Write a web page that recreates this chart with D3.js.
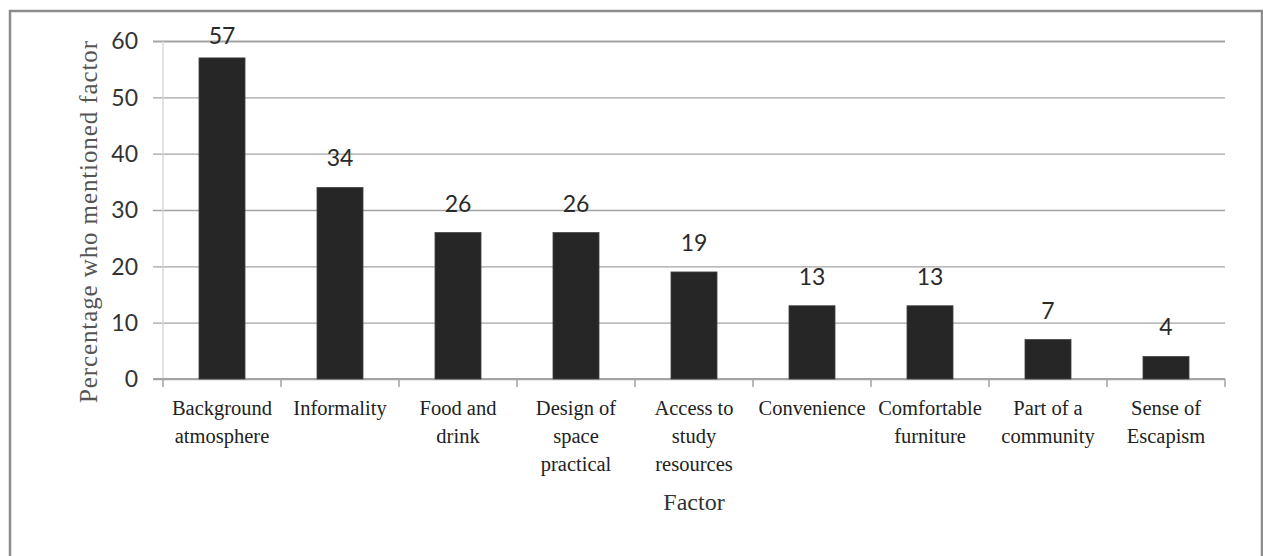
<!DOCTYPE html>
<html>
<head>
<meta charset="utf-8">
<script src="https://cdn.jsdelivr.net/npm/d3@7"></script>
<style>
  html, body { margin: 0; padding: 0; background: #fff; }
  svg { display: block; }
</style>
</head>
<body>
<svg id="chart" width="1263" height="556"></svg>
<script>
// ---- data ----
const categories = [
  "Background atmosphere",
  "Informality",
  "Food and drink",
  "Design of space practical",
  "Access to study resources",
  "Convenience",
  "Comfortable furniture",
  "Part of a community",
  "Sense of Escapism"
];
const categoryLines = [
  ["Background", "atmosphere"],
  ["Informality"],
  ["Food and", "drink"],
  ["Design of", "space", "practical"],
  ["Access to", "study", "resources"],
  ["Convenience"],
  ["Comfortable", "furniture"],
  ["Part of a", "community"],
  ["Sense of", "Escapism"]
];
const values = [57, 34, 26, 26, 19, 13, 13, 7, 4];
const yTicks = [0, 10, 20, 30, 40, 50, 60];
const yTitle = "Percentage who mentioned factor";
const xTitle = "Factor";

// ---- layout ----
const svg = d3.select("#chart");
const plot = { left: 163, right: 1225, top: 41, bottom: 379 };

// frame
svg.append("path")
  .attr("d", "M10,570 L10,11 L1262,11 L1262,570")
  .attr("fill", "none")
  .attr("stroke", "#8c8c8c")
  .attr("stroke-width", 2.5);

const x = d3.scaleBand()
  .domain(categories)
  .range([plot.left, plot.right])
  .paddingInner(0.61)
  .paddingOuter(0.305);

const y = d3.scaleLinear()
  .domain([0, 60])
  .range([plot.bottom, plot.top]);

// gridlines
const gy = svg.append("g")
  .attr("transform", `translate(${plot.right},0)`)
  .call(d3.axisLeft(y).tickValues(yTicks).tickSize(plot.right - plot.left + 10).tickFormat(""));
gy.select(".domain").remove();
gy.selectAll(".tick line")
  .attr("stroke", "#a3a3a3")
  .attr("stroke-width", d => d === 60 ? 2 : 1.3);

// y-axis line (light)
svg.append("line")
  .attr("x1", plot.left).attr("x2", plot.left)
  .attr("y1", plot.top).attr("y2", plot.bottom)
  .attr("stroke", "#d4d4d4").attr("stroke-width", 1.3);

// y tick labels
svg.append("g").selectAll("text")
  .data(yTicks)
  .join("text")
  .attr("x", 138)
  .attr("y", d => y(d))
  .attr("dy", "0.36em")
  .attr("text-anchor", "end")
  .attr("font-family", "Lato, 'Open Sans', sans-serif")
  .attr("font-size", 23)
  .attr("fill", "#333")
  .text(d => d);

// x axis line + ticks at category boundaries
const boundaries = categories.map(c => x(c) - x.step() * x.paddingInner() / 2);
boundaries.push(plot.right);
svg.append("line")
  .attr("x1", plot.left - 10).attr("x2", plot.right)
  .attr("y1", plot.bottom).attr("y2", plot.bottom)
  .attr("stroke", "#a3a3a3").attr("stroke-width", 2);
svg.append("g").selectAll("line")
  .data(boundaries)
  .join("line")
  .attr("x1", d => d).attr("x2", d => d)
  .attr("y1", plot.bottom).attr("y2", plot.bottom + 8)
  .attr("stroke", "#a3a3a3").attr("stroke-width", 1.5);

// bars
svg.append("g").selectAll("rect")
  .data(values)
  .join("rect")
  .attr("x", (d, i) => x(categories[i]))
  .attr("y", d => y(d))
  .attr("width", x.bandwidth())
  .attr("height", d => y(0) - y(d))
  .attr("fill", "#262626")
  .attr("stroke", "#444")
  .attr("stroke-width", 0.8);

// data labels
svg.append("g").selectAll("text")
  .data(values)
  .join("text")
  .attr("x", (d, i) => x(categories[i]) + x.bandwidth() / 2)
  .attr("y", d => Math.max(y(d) - 21, plot.top + 3))
  .attr("text-anchor", "middle")
  .attr("font-family", "Lato, 'Open Sans', sans-serif")
  .attr("font-size", 23)
  .attr("fill", "#2a2a2a")
  .text(d => d);

// category labels
const cl = svg.append("g").selectAll("text")
  .data(categoryLines)
  .join("text")
  .attr("x", (d, i) => x(categories[i]) + x.bandwidth() / 2)
  .attr("y", 415)
  .attr("text-anchor", "middle")
  .attr("font-family", "'Liberation Serif', 'DejaVu Serif', serif")
  .attr("font-size", 20.5)
  .attr("fill", "#222");
cl.each(function(lines, i) {
  const t = d3.select(this);
  const cx = x(categories[i]) + x.bandwidth() / 2;
  lines.forEach((ln, j) => {
    t.append("tspan").attr("x", cx).attr("dy", j === 0 ? 0 : 28).text(ln);
  });
});

// x title
svg.append("text")
  .attr("x", (plot.left + plot.right) / 2)
  .attr("y", 510)
  .attr("text-anchor", "middle")
  .attr("font-family", "'Liberation Serif', 'DejaVu Serif', serif")
  .attr("font-size", 24)
  .attr("fill", "#333")
  .text(xTitle);

// y title
svg.append("text")
  .attr("transform", `translate(97,222) rotate(-90)`)
  .attr("text-anchor", "middle")
  .attr("font-family", "'Liberation Serif', 'DejaVu Serif', serif")
  .attr("font-size", 25)
  .attr("textLength", 362)
  .attr("lengthAdjust", "spacing")
  .attr("fill", "#555")
  .text(yTitle);
</script>
</body>
</html>
